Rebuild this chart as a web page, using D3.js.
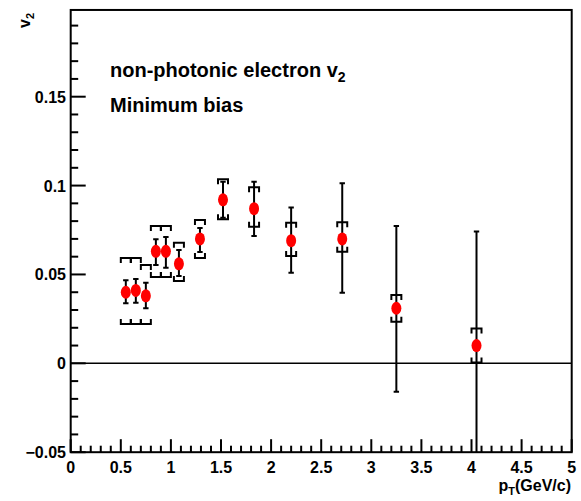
<!DOCTYPE html>
<html>
<head>
<meta charset="utf-8">
<script src="https://cdn.jsdelivr.net/npm/d3@7"></script>
<style>
  body { margin: 0; background: #fff; }
  text { font-family: "Liberation Sans", Arial, sans-serif; font-weight: bold; }
</style>
</head>
<body>
<div id="chart"></div>
<script>
// non-photonic electron v2 vs pT, minimum bias
const pt = [0.55, 0.65, 0.75, 0.85, 0.95, 1.08, 1.29, 1.52, 1.83, 2.20, 2.71, 3.25, 4.05];
const v2 = [0.040, 0.041, 0.038, 0.063, 0.063, 0.056, 0.070, 0.092, 0.087, 0.069, 0.070, 0.031, 0.010];
// statistical error bar ends
const statHi = [0.0468, 0.0474, 0.0454, 0.0698, 0.0711, 0.0638, 0.0761, 0.1022, 0.1022, 0.0876, 0.1013, 0.0773, 0.0741];
const statLo = [0.0338, 0.0341, 0.0310, 0.0553, 0.0538, 0.0491, 0.0626, 0.0819, 0.0716, 0.0510, 0.0397, -0.0160, -0.0600];
// systematic bracket ends
const sysHi = [0.0593, 0.0593, 0.0553, 0.0773, 0.0773, 0.0679, 0.0806, 0.1035, 0.0990, 0.0791, 0.0793, 0.0384, 0.0196];
const sysLo = [0.0221, 0.0221, 0.0221, 0.0486, 0.0486, 0.0463, 0.0593, 0.0810, 0.0769, 0.0604, 0.0628, 0.0234, 0.0005];

const xTicks = [0, 0.5, 1, 1.5, 2, 2.5, 3, 3.5, 4, 4.5, 5];
const yTicks = [-0.05, 0, 0.05, 0.1, 0.15];

const width = 581, height = 501;
const svg = d3.select("#chart").append("svg")
  .attr("width", width)
  .attr("height", height);

const x = d3.scaleLinear().domain([0, 5]).range([70.7, 571.7]);
const y = d3.scaleLinear().domain([-0.05, 0.15]).range([452.2, 96.7]);
const yTop = 0.1988;

const fLeft = x(0), fRight = x(5), fTop = y(yTop), fBottom = y(-0.05);

svg.append("clipPath").attr("id", "clip")
  .append("rect")
  .attr("x", fLeft).attr("y", fTop)
  .attr("width", fRight - fLeft).attr("height", fBottom - fTop);

// frame
svg.append("rect")
  .attr("x", fLeft).attr("y", fTop)
  .attr("width", fRight - fLeft).attr("height", fBottom - fTop)
  .attr("fill", "none").attr("stroke", "#000").attr("stroke-width", 2);

// x axis ticks (inward)
const xMinor = d3.range(0, 5.001, 0.1).map(d => +d.toFixed(2));
svg.append("g").selectAll("line").data(xMinor).join("line")
  .attr("x1", d => x(d)).attr("x2", d => x(d))
  .attr("y1", fBottom)
  .attr("y2", d => fBottom - (Math.abs(d * 2 - Math.round(d * 2)) < 1e-6 ? 13 : 6.5))
  .attr("stroke", "#000").attr("stroke-width", 2);

svg.append("g").selectAll("text").data(xTicks).join("text")
  .attr("x", d => x(d)).attr("y", 473)
  .attr("text-anchor", "middle")
  .attr("font-size", 16)
  .text(d => d3.format("")(d));

// y axis ticks (inward)
const yMinor = d3.range(-0.05, 0.195, 0.01).map(d => +d.toFixed(3));
svg.append("g").selectAll("line").data(yMinor).join("line")
  .attr("y1", d => y(d)).attr("y2", d => y(d))
  .attr("x1", fLeft)
  .attr("x2", d => fLeft + (Math.abs(d * 20 - Math.round(d * 20)) < 1e-6 ? 15 : 7.5))
  .attr("stroke", "#000").attr("stroke-width", 2);

svg.append("g").selectAll("text").data(yTicks).join("text")
  .attr("x", 66).attr("y", d => y(d) + 6)
  .attr("text-anchor", "end")
  .attr("font-size", 16)
  .text(d => d3.format("")(d));

// zero line
svg.append("line")
  .attr("x1", fLeft).attr("x2", fRight)
  .attr("y1", y(0)).attr("y2", y(0))
  .attr("stroke", "#000").attr("stroke-width", 1.5);

const data = pt.map((p, i) => ({ p, v: v2[i], sh: statHi[i], sl: statLo[i], yh: sysHi[i], yl: sysLo[i] }));
const plot = svg.append("g").attr("clip-path", "url(#clip)");

// systematic brackets
const bw = 5, bt = 5;
const bracket = (g, val, dir) => g.append("path")
  .attr("d", d => {
    const cx = x(d.p), cy = y(d[val]);
    return `M${cx - bw},${cy + dir * bt}V${cy}H${cx + bw}V${cy + dir * bt}`;
  })
  .attr("fill", "none").attr("stroke", "#000").attr("stroke-width", 2);

const pts = plot.selectAll("g.pt").data(data).join("g").attr("class", "pt");
bracket(pts, "yh", 1);
bracket(pts, "yl", -1);

// statistical error bars
pts.append("line")
  .attr("x1", d => x(d.p)).attr("x2", d => x(d.p))
  .attr("y1", d => y(d.sh)).attr("y2", d => y(d.sl))
  .attr("stroke", "#000").attr("stroke-width", 2);
pts.append("path")
  .attr("d", d => {
    const cx = x(d.p);
    return `M${cx - 2.7},${y(d.sh)}H${cx + 2.7}M${cx - 2.7},${y(d.sl)}H${cx + 2.7}`;
  })
  .attr("stroke", "#000").attr("stroke-width", 2);

// markers
pts.append("ellipse")
  .attr("cx", d => x(d.p)).attr("cy", d => y(d.v))
  .attr("rx", 5).attr("ry", 6.5)
  .attr("fill", "#ff0000");

// labels
const t1 = svg.append("text").attr("x", 110).attr("y", 77).attr("font-size", 20);
t1.append("tspan").text("non-photonic electron v");
t1.append("tspan").attr("font-size", 14).attr("dy", 5).text("2");

svg.append("text").attr("x", 110).attr("y", 112).attr("font-size", 20).text("Minimum bias");

// axis titles
const xt = svg.append("text").attr("x", 571).attr("y", 491).attr("text-anchor", "end").attr("font-size", 16);
xt.append("tspan").text("p");
xt.append("tspan").attr("font-size", 11).attr("dy", 4).text("T");
xt.append("tspan").attr("dy", -4).text("(GeV/c)");

const yt = svg.append("text").attr("transform", "translate(30,28) rotate(-90)").attr("font-size", 16);
yt.append("tspan").text("v");
yt.append("tspan").attr("font-size", 11).attr("dy", 4).text("2");
</script>
</body>
</html>
